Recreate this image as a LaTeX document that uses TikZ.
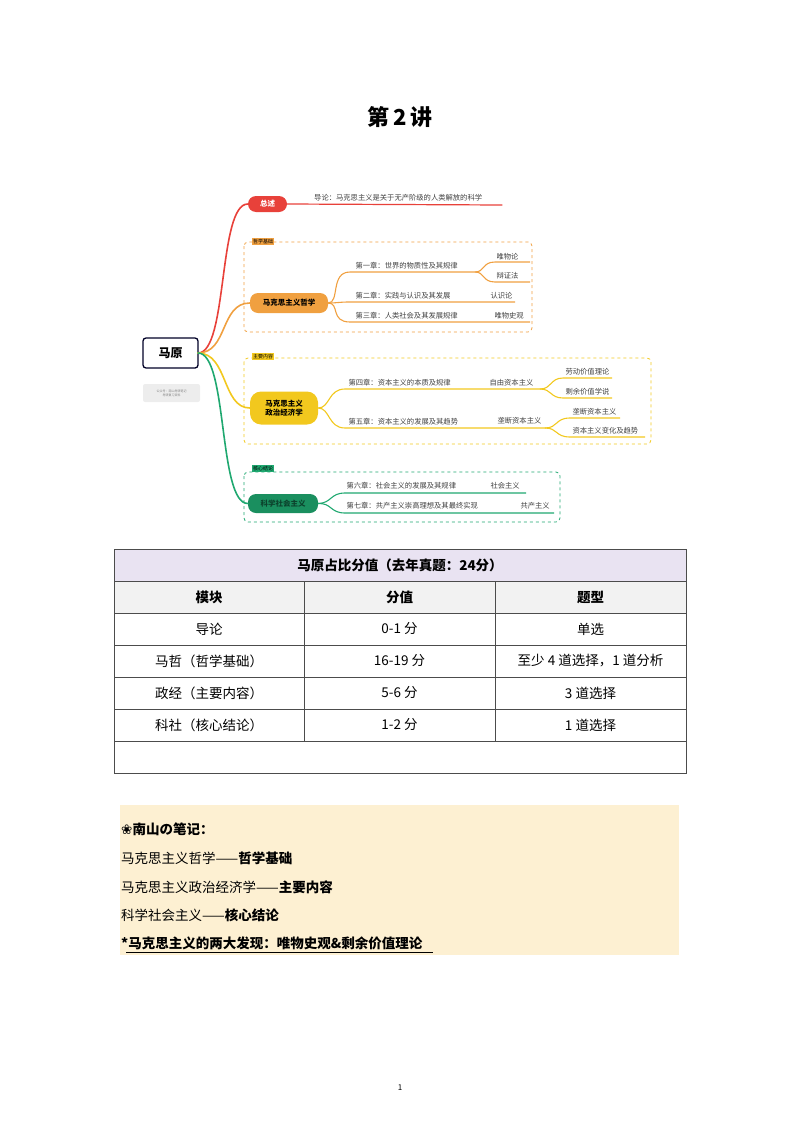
\documentclass[tikz,border=0pt]{standalone}
\usepackage{fontspec}
\setmainfont{Noto Sans CJK SC}
\newfontfamily\djv{DejaVu Sans}
\definecolor{cr}{HTML}{E8413A}\definecolor{co}{HTML}{F0A040}
\definecolor{cy}{HTML}{F2C81E}\definecolor{cg}{HTML}{1FA870}
\definecolor{lav}{HTML}{E9E3F2}\definecolor{hg}{HTML}{F2F2F2}\definecolor{cream}{HTML}{FDF0D2}
\begin{document}
\begin{tikzpicture}[x=1pt,y=-1pt,
 br/.style={line width=1.6pt,line cap=round},
 tiny/.style={font=\fontsize{7.3}{8}\selectfont,text=black!75,inner sep=0pt,anchor=west},
 mainnode/.style={rounded corners=8pt,inner sep=0pt,font=\fontsize{7.5}{9}\selectfont\bfseries,align=center},
 tag/.style={inner sep=1pt,font=\fontsize{5}{5.5}\selectfont,text=black,anchor=south west},
 grp/.style={dashed,rounded corners=4pt,line width=0.8pt},
 cell/.style={font=\fontsize{13.5}{15}\selectfont},
 hcell/.style={font=\fontsize{13.5}{15}\selectfont\bfseries}]
\useasboundingbox (0,0) rectangle (800,1132);
\node[font=\fontsize{22}{26}\selectfont\bfseries] (title) at (400,117) {第\,2\,讲};
% root
\node[draw=black!85!blue,line width=1.3pt,rounded corners=3pt,minimum width=55pt,minimum height=30pt,font=\fontsize{12}{14}\selectfont\bfseries] (root) at (170.5,353) {马原};
\node[fill=black!7,rounded corners=2pt,minimum width=57pt,minimum height=18pt,font=\fontsize{3}{4}\selectfont,text=black!50,align=center] (memo) at (171.5,393) {公众号：南山考研笔记\\考研复习资料};
\coordinate (r) at (198,353);
% groups
\draw[grp,co] (244,242) rectangle (532,332);
\node[tag,fill=co] (t1) at (252,245) {哲学基础};
\draw[grp,cy] (244,358) rectangle (651,444);
\node[tag,fill=cy] (t2) at (252,360) {主要内容};
\draw[grp,cg] (244,472) rectangle (560,522);
\node[tag,fill=cg] (t3) at (252,472) {核心结论};
% main nodes
\node[mainnode,fill=cr,text=white,minimum width=39pt,minimum height=16pt] (zs) at (267.5,204) {总述};
\node[mainnode,fill=co,minimum width=78pt,minimum height=20pt] (zx) at (289,303) {马克思主义哲学};
\node[mainnode,fill=cy,minimum width=68pt,minimum height=33pt,rounded corners=11pt] (zj) at (284,408) {马克思主义\\政治经济学};
\node[mainnode,fill=cg!85!black,text=black!60!cg,minimum width=70pt,minimum height=19pt] (kx) at (283,503.5) {科学社会主义};
% branches from root
\draw[br,cr] (r) .. controls (228,353) and (218,204) .. (zs.west);
\draw[br,co] (r) .. controls (228,353) and (220,303) .. (zx.west);
\draw[br,cy] (r) .. controls (228,353) and (222,408) .. (zj.west);
\draw[br,cg] (r) .. controls (228,353) and (218,503.5) .. (kx.west);
% red
\node[tiny] (dl) at (314,198) {导论：马克思主义是关于无产阶级的人类解放的科学};
\coordinate (dle) at (502,205);
\draw[br,cr,line width=1.2pt] (zs.east) -- (dle);
% orange
\begin{scope}[every path/.style={line width=1.1pt,co}]
\node[tiny] (c1) at (355,266) {第一章：世界的物质性及其规律};
\node[tiny] (c2) at (355,296) {第二章：实践与认识及其发展};
\node[tiny] (c3) at (355,316) {第三章：人类社会及其发展规律};
\node[tiny] (l1) at (496,257) {唯物论};
\node[tiny] (l2) at (496,276) {辩证法};
\node[tiny] (l3) at (490,296) {认识论};
\node[tiny] (l4) at (494,316) {唯物史观};
\coordinate (o1) at (475,272);\coordinate (o2) at (515,302);\coordinate (o3) at (530,322);
\coordinate (a1) at (530,262);\coordinate (a2) at (530,282);
\draw (zx.east) .. controls (340,303) and (330,272) .. (350,272) -- (o1);
\draw (zx.east) .. controls (338,303) and (338,302) .. (350,302) -- (o2);
\draw (zx.east) .. controls (340,303) and (330,322) .. (350,322) -- (o3);
\draw (o1) .. controls (485,272) and (482,262) .. (495,262) -- (a1);
\draw (o1) .. controls (485,272) and (482,282) .. (495,282) -- (a2);
\end{scope}
% yellow
\begin{scope}[every path/.style={line width=1.1pt,cy}]
\node[tiny] (c4) at (348,383) {第四章：资本主义的本质及规律};
\node[tiny] (c5) at (348,422) {第五章：资本主义的发展及其趋势};
\node[tiny] (m1) at (489,383) {自由资本主义};
\node[tiny] (m2) at (497,421) {垄断资本主义};
\node[tiny] (y1) at (565,372) {劳动价值理论};
\node[tiny] (y2) at (565,392) {剩余价值学说};
\node[tiny] (y3) at (572,412) {垄断资本主义};
\node[tiny] (y4) at (572,431) {资本主义变化及趋势};
\coordinate (p1) at (540,389);\coordinate (p2) at (545,428);
\draw (zj.east) .. controls (330,408) and (328,389) .. (345,389) -- (p1);
\draw (zj.east) .. controls (330,408) and (328,428) .. (345,428) -- (p2);
\draw (p1) .. controls (552,389) and (550,378) .. (563,378) -- (612,378);
\draw (p1) .. controls (552,389) and (550,398) .. (563,398) -- (612,398);
\draw (p2) .. controls (558,428) and (555,418) .. (570,418) -- (620,418);
\draw (p2) .. controls (558,428) and (555,437) .. (570,437) -- (645,437);
\end{scope}
% green
\begin{scope}[every path/.style={line width=1.1pt,cg}]
\node[tiny] (c6) at (346,486) {第六章：社会主义的发展及其规律};
\node[tiny] (c7) at (346,506) {第七章：共产主义崇高理想及其最终实现};
\node[tiny] (g1) at (490,486) {社会主义};
\node[tiny] (g2) at (520,506) {共产主义};
\draw (kx.east) .. controls (332,503) and (330,493) .. (345,493) -- (526,493);
\draw (kx.east) .. controls (332,503) and (330,513) .. (345,513) -- (554,513);
\end{scope}
% table
\fill[lav] (114,549) rectangle (686,581);
\fill[hg] (114,581) rectangle (686,613);
\draw[black!70,line width=0.6pt] (114,549) rectangle (686,773);
\foreach \y in {581,613,645,677,709,741} \draw[black!70,line width=0.6pt] (114,\y) -- (686,\y);
\foreach \x in {304,495} \draw[black!70,line width=0.6pt] (\x,581) -- (\x,741);
\node[hcell] (th) at (400,565) {马原占比分值（去年真题：24分）};
\node[hcell] (h1) at (209,597) {模块};
\node[hcell] (h2) at (399.5,597) {分值};
\node[hcell] (h3) at (590.5,597) {题型};
\node[cell] (a1c) at (209,629) {导论};
\node[cell] (a2c) at (399.5,629) {0-1 分};
\node[cell] (a3c) at (590.5,629) {单选};
\node[cell] (b1c) at (209,661) {马哲（哲学基础）};
\node[cell] (b2c) at (399.5,661) {16-19 分};
\node[cell] (b3c) at (590.5,661) {至少 4 道选择，1 道分析};
\node[cell] (d1c) at (209,693) {政经（主要内容）};
\node[cell] (d2c) at (399.5,693) {5-6 分};
\node[cell] (d3c) at (590.5,693) {3 道选择};
\node[cell] (e1c) at (209,725) {科社（核心结论）};
\node[cell] (e2c) at (399.5,725) {1-2 分};
\node[cell] (e3c) at (590.5,725) {1 道选择};
% notes
\fill[cream] (120,805) rectangle (679,955);
\begin{scope}[every node/.style={anchor=west,inner sep=0pt,font=\fontsize{13.5}{15}\selectfont}]
\node (n0) at (121,829) {{\djv ❀}\textbf{南山の笔记：}};
\node (n1) at (121,858) {马克思主义哲学——\textbf{哲学基础}};
\node (n2) at (121,887) {马克思主义政治经济学——\textbf{主要内容}};
\node (n3) at (121,915) {科学社会主义——\textbf{核心结论}};
\node (n4) at (121,943) {\textbf{*马克思主义的两大发现：唯物史观\&剩余价值理论}};
\end{scope}
\draw[line width=0.8pt] (126,952) -- (433,952);
\node[font=\fontsize{8}{9}\selectfont] (pg) at (400,1088) {1};
\end{tikzpicture}
\end{document}
